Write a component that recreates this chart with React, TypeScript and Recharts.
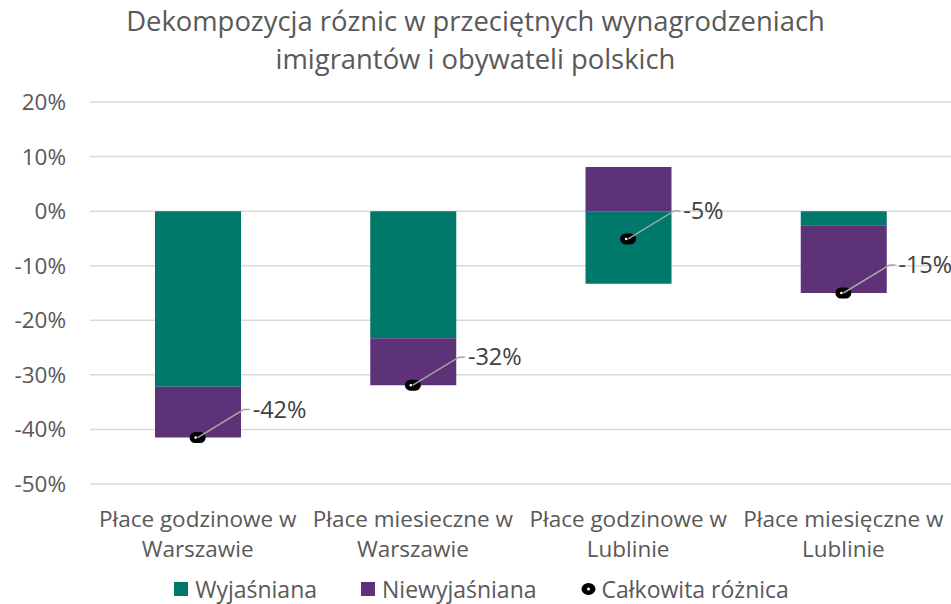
import React from 'react';
import { ComposedChart, Bar, Line, XAxis, YAxis, CartesianGrid } from 'recharts';

const categories = [
  'Płace godzinowe w Warszawie',
  'Płace miesieczne w Warszawie',
  'Płace godzinowe w Lublinie',
  'Płace miesięczne w Lublinie',
];
const categoryLines = [
  ['Płace godzinowe w', 'Warszawie'],
  ['Płace miesieczne w', 'Warszawie'],
  ['Płace godzinowe w', 'Lublinie'],
  ['Płace miesięczne w', 'Lublinie'],
];
const explained = [-32.2, -23.3, -13.3, -2.6];
const unexplained = [-9.3, -8.6, 8.1, -12.4];
const total = [-41.5, -31.9, -5.1, -15.0];
const totalLabels = ['-42%', '-32%', '-5%', '-15%'];
const yTicks = [-50, -40, -30, -20, -10, 0, 10, 20];

const data = categories.map((c, i) => ({
  name: c,
  explained: explained[i],
  unexplained: unexplained[i],
  total: total[i],
}));

const FONT = '"Open Sans", sans-serif';
const TEAL = '#00796B';
const PURPLE = '#5E3279';
const TEXT = '#595959';

const XTick = (props: any) => {
  const { x, y, index } = props;
  const lines = categoryLines[index] || [];
  return (
    <g>
      {lines.map((l, k) => (
        <text key={k} x={x} y={y + 43 + k * 30} dy="-0.35em" textAnchor="middle" fill={TEXT} fontSize={22.5} fontFamily={FONT}>
          {l}
        </text>
      ))}
    </g>
  );
};

const Marker = (props: any) => {
  const { cx, cy } = props;
  if (cx == null || cy == null) return null;
  return (
    <g>
      <rect x={cx - 8} y={cy - 5.5} width={16} height={11} rx={5.5} ry={5.5} fill="#000" />
      <circle cx={cx - 2} cy={cy} r={1.3} fill="#fff" />
    </g>
  );
};

const TotalLabel = (props: any) => {
  const { x, y, index } = props;
  if (x == null || y == null) return null;
  const dx = 55;
  const dy = -28;
  return (
    <g>
      <polyline
        points={`${x},${y} ${x + dx - 9},${y + dy} ${x + dx - 3},${y + dy}`}
        fill="none"
        stroke="#a6a6a6"
        strokeWidth={1.5}
      />
      <text x={x + dx} y={y + dy} dy="0.35em" fill="#404040" fontSize={23.5} fontFamily={FONT}>
        {totalLabels[index]}
      </text>
    </g>
  );
};

const legendItems = [
  { label: 'Wyjaśniana', color: TEAL, type: 'square' },
  { label: 'Niewyjaśniana', color: PURPLE, type: 'square' },
  { label: 'Całkowita różnica', color: '#000', type: 'dot' },
];

const LegendBox = () => (
  <div
    style={{
      position: 'absolute',
      left: 6,
      top: 575,
      width: 951,
      display: 'flex',
      justifyContent: 'center',
      gap: 44,
      fontFamily: FONT,
      fontSize: 23,
      lineHeight: '28px',
      color: TEXT,
    }}
  >
    {legendItems.map((it) => (
      <div key={it.label} style={{ display: 'flex', alignItems: 'center' }}>
        {it.type === 'square' ? (
          <span style={{ width: 14, height: 14, background: it.color, display: 'inline-block', marginRight: 7 }} />
        ) : (
          <svg width={15} height={14} style={{ marginRight: 6 }}>
            <ellipse cx={7.5} cy={7} rx={7} ry={6} fill="#000" />
            <circle cx={7.5} cy={7} r={1.5} fill="#fff" />
          </svg>
        )}
        <span>{it.label}</span>
      </div>
    ))}
  </div>
);

export default function App() {
  return (
    <div style={{ position: 'absolute', left: 0, top: 0, width: 951, height: 604, background: '#fff', overflow: 'hidden' }}>
      <div
        style={{
          position: 'absolute',
          left: 0,
          top: 2,
          width: 951,
          textAlign: 'center',
          fontFamily: FONT,
          fontSize: 27.4,
          lineHeight: '38px',
          color: TEXT,
        }}
      >
        Dekompozycja róznic w przeciętnych wynagrodzeniach
        <br />
        imigrantów i obywateli polskich
      </div>
      <div style={{ position: 'absolute', left: 0, top: 0 }}>
        <ComposedChart
          width={951}
          height={604}
          data={data}
          stackOffset="sign"
          margin={{ top: 102, right: 0, bottom: 40, left: 0 }}
        >
          <CartesianGrid vertical={false} stroke="#d9d9d9" strokeWidth={1.5} />
          <XAxis dataKey="name" axisLine={false} tickLine={false} tick={<XTick />} interval={0} height={80} />
          <YAxis
            domain={[-50, 20]}
            ticks={yTicks}
            axisLine={false}
            tickLine={false}
            width={90}
            tickFormatter={(v: number) => `${v}%`}
            tick={{ fill: TEXT, fontSize: 22.5, fontFamily: FONT, dx: -16 }}
          />
          <Bar dataKey="explained" stackId="a" fill={TEAL} barSize={86} isAnimationActive={false} />
          <Bar dataKey="unexplained" stackId="a" fill={PURPLE} barSize={86} isAnimationActive={false} />
          <Line
            dataKey="total"
            stroke="none"
            dot={<Marker />}
            activeDot={false}
            label={<TotalLabel />}
            isAnimationActive={false}
          />
        </ComposedChart>
      </div>
      <LegendBox />
    </div>
  );
}
